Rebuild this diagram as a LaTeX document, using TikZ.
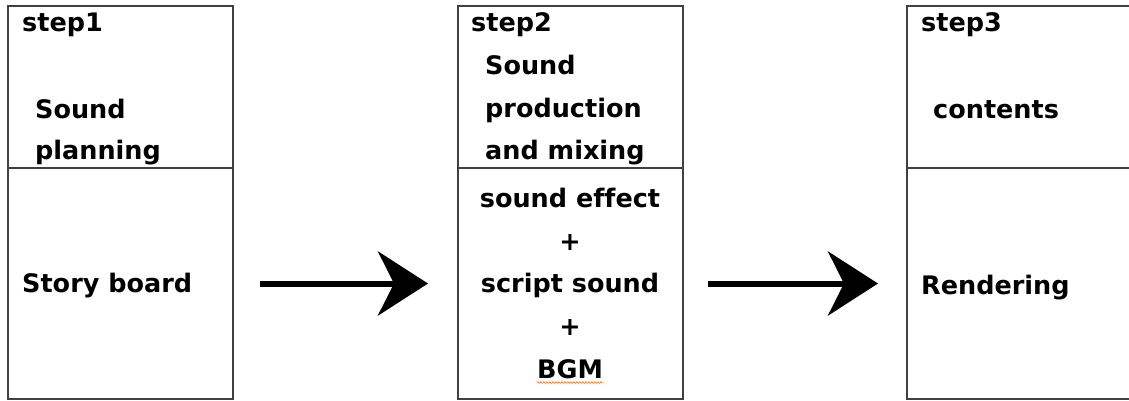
\documentclass[tikz,border=0pt]{standalone}
\usepackage{fontspec}
\setmainfont[Ligatures=NoCommon]{DejaVu Sans}
\usetikzlibrary{arrows.meta,decorations.pathmorphing}
\newcommand{\wid}{225pt}
\newcommand{\ytop}{6}
\newcommand{\ymid}{168}
\newcommand{\cells}[2]{
	\node[cell, minimum height=162pt, anchor=north west] (up#1) at (#2,\ytop) {};
	\node[cell, minimum height=231pt, anchor=north west] (low#1) at (#2,\ymid) {};
	}

\begin{document}
\begin{tikzpicture}[
      x=1pt, y=-1pt, %pixel like units, y going down
      cell/.style={draw=black!75, line width=1.9pt, minimum width=\wid, inner sep=0pt, outer sep=0pt},
      txt/.style={font=\bfseries\fontsize{25.5}{30}\selectfont, inner sep=0pt, anchor=base west},
      ctxt/.style={txt, anchor=base},
      flow/.style={line width=6pt, -{Stealth[length=50pt,width=64pt,inset=16pt]}},
      squiggle/.style={draw=orange!80!red, line width=0.6pt, decorate, decoration={snake, amplitude=0.8pt, segment length=3pt}}
    ]
    \useasboundingbox (0,0) rectangle (1129,400);
    % Draw the three columns
    \cells{1}{8};
    \cells{2}{458};
    \cells{3}{907};
    % step1
    \node[txt] (s1) at (22,31) {step1};
    \node[txt] (plan1) at (35,118) {Sound};
    \node[txt] (plan2) at (35,159) {planning};
    \node[txt] (story) at (22,292) {Story board};
    % step2
    \node[txt] (s2) at (471,31) {step2};
    \node[txt] (prod1) at (485,74) {Sound};
    \node[txt] (prod2) at (485,117) {production};
    \node[txt] (prod3) at (485,159) {and mixing};
    \node[ctxt] (effect) at (570,207) {sound effect};
    \node[ctxt] (plus1) at (570,250) {+};
    \node[ctxt] (script) at (570,292) {script sound};
    \node[ctxt] (plus2) at (570,335) {+};
    \node[ctxt] (bgm) at (570,378) {BGM};
    \draw[squiggle] ([yshift=-4pt]bgm.south west) -- ([yshift=-4pt]bgm.south east);
    % step3
    \node[txt] (s3) at (921,31) {step3};
    \node[txt] (cont) at (933,118) {contents};
    \node[txt] (render) at (921,294) {Rendering};
    % arrows between the steps
    \draw[flow, shorten <=27pt, shorten >=30pt] (low1) -- (low2);
    \draw[flow, shorten <=25pt, shorten >=29pt] (low2) -- (low3);
\end{tikzpicture}
\end{document}
